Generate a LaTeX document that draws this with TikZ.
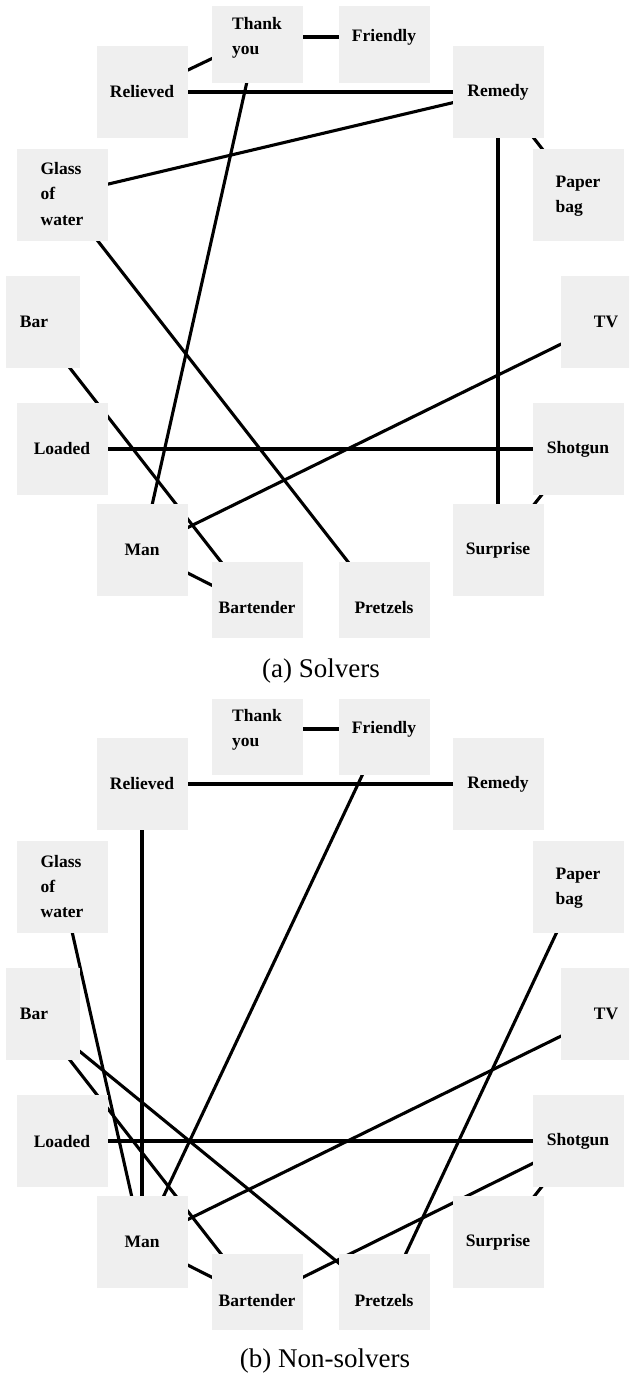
\documentclass[tikz,border=0pt]{standalone}
\usepackage{fontspec}
\setmainfont{Liberation Serif}
\definecolor{boxgray}{RGB}{239,239,239}
\pgfdeclarelayer{background}
\pgfsetlayers{background,main}
\tikzset{
  box/.style={rectangle, fill=boxgray, minimum width=91pt, minimum height=92pt,
    inner sep=0pt, align=left, font=\fontsize{17.5}{25}\selectfont\bfseries},
  link/.style={line width=3.1pt, black},
  caption/.style={font=\fontsize{27}{30}\selectfont}
}
\newcommand\mkpanel[1]{%
  \begin{scope}
    \clip (6,7) rectangle (629,637);
    \node[box] (#1bar) at (34,322) {\raisebox{-2pt}{Bar}};
    \node[box] (#1gla) at (62,195) {\raisebox{-2pt}{\begin{tabular}[c]{@{}l@{}}Glass\\of\\water\end{tabular}}};
    \node[box] (#1rel) at (142,92) {\raisebox{-2pt}{Relieved}};
    \node[box] (#1thy) at (257,37) {\raisebox{-2pt}{\begin{tabular}[c]{@{}l@{}}Thank\\you\end{tabular}}};
    \node[box] (#1fri) at (384,37) {\raisebox{-2pt}{Friendly}};
    \node[box] (#1rem) at (498,92) {\raisebox{-2pt}{Remedy}};
    \node[box] (#1pap) at (578,195) {\raisebox{-2pt}{\begin{tabular}[c]{@{}l@{}}Paper\\bag\end{tabular}}};
    \node[box] (#1tv)  at (606,322) {\raisebox{-2pt}{TV}};
    \node[box] (#1sho) at (578,449) {\raisebox{-2pt}{Shotgun}};
    \node[box] (#1sur) at (498,550) {\raisebox{-2pt}{Surprise}};
    \node[box] (#1pre) at (384,608) {\raisebox{-2pt}{Pretzels}};
    \node[box] (#1bat) at (257,608) {\raisebox{-2pt}{Bartender}};
    \node[box] (#1man) at (142,550) {\raisebox{-2pt}{Man}};
    \node[box] (#1loa) at (62,449) {\raisebox{-2pt}{Loaded}};
  \end{scope}
}
\renewcommand{\arraystretch}{1.0}
\begin{document}
\begin{tikzpicture}[x=1pt, y=-1pt]
  \useasboundingbox (0,0) rectangle (629,1375);
  % Panel (a)
  \mkpanel{a}
  \begin{pgfonlayer}{background}
    \draw[link] (athy.center) -- (afri.center);
    \draw[link] (arel.center) -- (athy.center);
    \draw[link] (arel.center) -- (arem.center);
    \draw[link] (athy.center) -- (aman.center);
    \draw[link] (arem.center) -- (agla.center);
    \draw[link] (arem.center) -- (apap.center);
    \draw[link] (arem.center) -- (asur.center);
    \draw[link] (agla.center) -- (apre.center);
    \draw[link] (abar.center) -- (abat.center);
    \draw[link] (aloa.center) -- (asho.center);
    \draw[link] (aman.center) -- (atv.center);
    \draw[link] (aman.center) -- (abat.center);
    \draw[link] (asho.center) -- (asur.center);
  \end{pgfonlayer}
  \node[caption] (capa) at (321,671) {(a) Solvers};
  % Panel (b)
  \begin{scope}[shift={(0,692)}]
    \mkpanel{b}
    \begin{pgfonlayer}{background}
      \draw[link] (bthy.center) -- (bfri.center);
      \draw[link] (brel.center) -- (brem.center);
      \draw[link] (bfri.center) -- (bman.center);
      \draw[link] (brel.center) -- (bman.center);
      \draw[link] (bgla.center) -- (bman.center);
      \draw[link] (bbar.center) -- (bbat.center);
      \draw[link] (bbar.center) -- (bpre.center);
      \draw[link] (bloa.center) -- (bsho.center);
      \draw[link] (bman.center) -- (btv.center);
      \draw[link] (bman.center) -- (bbat.center);
      \draw[link] (bpap.center) -- (bpre.center);
      \draw[link] (bbat.center) -- (bsho.center);
      \draw[link] (bsho.center) -- (bsur.center);
    \end{pgfonlayer}
    \node[caption] (capb) at (325,669) {(b) Non-solvers};
  \end{scope}
\end{tikzpicture}
\end{document}
